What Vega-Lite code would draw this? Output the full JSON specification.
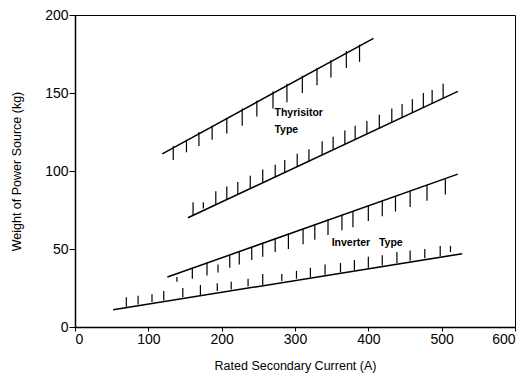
{
  "$schema": "https://vega.github.io/schema/vega-lite/v6.json",
  "width": 440,
  "height": 312,
  "autosize": {"type": "none"},
  "padding": {"left": 75, "top": 15, "right": 15, "bottom": 49},
  "background": "white",
  "config": {
    "view": {"stroke": "black", "strokeWidth": 1},
    "font": "Liberation Sans",
    "axis": {"grid": false, "domainColor": "black", "domainWidth": 1.5, "tickColor": "black", "labelColor": "black", "titleColor": "black", "labelFont": "Liberation Sans", "titleFont": "Liberation Sans", "titleFontWeight": "normal"}
  },
  "datasets": {
    "lines": [
      {"series": "Thyristor upper", "current": 119, "weight": 111},
      {"series": "Thyristor upper", "current": 407, "weight": 185},
      {"series": "Thyristor lower", "current": 154, "weight": 70},
      {"series": "Thyristor lower", "current": 522, "weight": 151},
      {"series": "Inverter upper", "current": 126, "weight": 32},
      {"series": "Inverter upper", "current": 522, "weight": 98},
      {"series": "Inverter lower", "current": 52, "weight": 11},
      {"series": "Inverter lower", "current": 528, "weight": 47}
    ],
    "hatches": [
      {"current": 134, "top": 116, "bottom": 107},
      {"current": 152, "top": 120, "bottom": 112},
      {"current": 169, "top": 125, "bottom": 116},
      {"current": 187, "top": 129, "bottom": 120},
      {"current": 207, "top": 134, "bottom": 124},
      {"current": 228, "top": 140, "bottom": 129},
      {"current": 248, "top": 145, "bottom": 135},
      {"current": 270, "top": 151, "bottom": 140},
      {"current": 289, "top": 156, "bottom": 144},
      {"current": 310, "top": 161, "bottom": 150},
      {"current": 330, "top": 166, "bottom": 155},
      {"current": 349, "top": 171, "bottom": 160},
      {"current": 370, "top": 177, "bottom": 166},
      {"current": 388, "top": 181, "bottom": 170},

      {"current": 161, "top": 80, "bottom": 71.5},
      {"current": 175, "top": 80, "bottom": 76},
      {"current": 192, "top": 87, "bottom": 78.4},
      {"current": 207, "top": 90, "bottom": 81.7},
      {"current": 222, "top": 93, "bottom": 85},
      {"current": 239, "top": 97, "bottom": 88.7},
      {"current": 256, "top": 101, "bottom": 92.4},
      {"current": 273, "top": 104, "bottom": 96.2},
      {"current": 286, "top": 107, "bottom": 99},
      {"current": 303, "top": 111, "bottom": 102.8},
      {"current": 319, "top": 114, "bottom": 106.3},
      {"current": 337, "top": 119, "bottom": 110.3},
      {"current": 352, "top": 122, "bottom": 113.6},
      {"current": 368, "top": 126, "bottom": 117},
      {"current": 382, "top": 129, "bottom": 120},
      {"current": 398, "top": 132, "bottom": 123.7},
      {"current": 415, "top": 136, "bottom": 127.4},
      {"current": 432, "top": 140, "bottom": 131.2},
      {"current": 446, "top": 143, "bottom": 134.2},
      {"current": 460, "top": 146, "bottom": 137.3},
      {"current": 475, "top": 150, "bottom": 140.6},
      {"current": 487, "top": 152, "bottom": 143.3},
      {"current": 502, "top": 156, "bottom": 146.6},

      {"current": 139, "top": 32, "bottom": 29},
      {"current": 160, "top": 38, "bottom": 31},
      {"current": 180, "top": 41, "bottom": 33},
      {"current": 195, "top": 40, "bottom": 35},
      {"current": 211, "top": 46, "bottom": 38},
      {"current": 224, "top": 48, "bottom": 40},
      {"current": 241, "top": 51, "bottom": 43},
      {"current": 256, "top": 54, "bottom": 45},
      {"current": 273, "top": 57, "bottom": 48},
      {"current": 291, "top": 60, "bottom": 50},
      {"current": 311, "top": 63, "bottom": 53},
      {"current": 327, "top": 66, "bottom": 56},
      {"current": 345, "top": 69, "bottom": 59},
      {"current": 364, "top": 72, "bottom": 62},
      {"current": 379, "top": 74, "bottom": 64},
      {"current": 400, "top": 78, "bottom": 68},
      {"current": 419, "top": 81, "bottom": 71},
      {"current": 437, "top": 84, "bottom": 74},
      {"current": 457, "top": 87, "bottom": 77},
      {"current": 480, "top": 91, "bottom": 81},
      {"current": 505, "top": 95, "bottom": 85},

      {"current": 70, "top": 19, "bottom": 13},
      {"current": 86, "top": 20, "bottom": 14.5},
      {"current": 105, "top": 21, "bottom": 16},
      {"current": 121, "top": 23, "bottom": 17},
      {"current": 147, "top": 25, "bottom": 19},
      {"current": 171, "top": 27, "bottom": 20},
      {"current": 194, "top": 28, "bottom": 23},
      {"current": 213, "top": 29, "bottom": 24},
      {"current": 236, "top": 31, "bottom": 26},
      {"current": 256, "top": 34, "bottom": 27},
      {"current": 282, "top": 34, "bottom": 29.5},
      {"current": 302, "top": 36, "bottom": 31},
      {"current": 321, "top": 38, "bottom": 32},
      {"current": 341, "top": 40, "bottom": 33.5},
      {"current": 362, "top": 41, "bottom": 35},
      {"current": 381, "top": 43, "bottom": 36.5},
      {"current": 400, "top": 45, "bottom": 38},
      {"current": 419, "top": 46, "bottom": 39.5},
      {"current": 439, "top": 48, "bottom": 41},
      {"current": 457, "top": 49, "bottom": 42.5},
      {"current": 477, "top": 50, "bottom": 44},
      {"current": 498, "top": 52, "bottom": 45.5},
      {"current": 512, "top": 52, "bottom": 48}
    ],
    "labels": [
      {"text": "Thyrisitor", "current": 272, "weight": 137},
      {"text": "Type", "current": 272, "weight": 126},
      {"text": "Inverter\u00a0\u00a0 Type", "current": 350, "weight": 54}
    ]
  },
  "layer": [
    {
      "data": {"name": "lines"},
      "mark": {"type": "line", "color": "black", "strokeWidth": 1.5},
      "encoding": {
        "x": {"field": "current", "type": "quantitative", "scale": {"domain": [0, 600], "nice": false}, "axis": {"values": [0, 100, 200, 300, 400, 500, 600], "title": "Rated Secondary Current (A)", "labelFontSize": 14, "titleFontSize": 12.5, "tickSize": 4, "labelPadding": 1, "titlePadding": 13}},
        "y": {"field": "weight", "type": "quantitative", "scale": {"domain": [0, 200], "nice": false}, "axis": {"values": [0, 50, 100, 150, 200], "title": "Weight of Power Source (kg)", "labelFontSize": 14, "titleFontSize": 12.5, "tickSize": 6, "labelPadding": 1, "titlePadding": 21}},
        "detail": {"field": "series"}
      }
    },
    {
      "data": {"name": "hatches"},
      "mark": {"type": "rule", "color": "black", "strokeWidth": 1.2},
      "encoding": {
        "x": {"field": "current", "type": "quantitative"},
        "y": {"field": "top", "type": "quantitative"},
        "y2": {"field": "bottom"}
      }
    },
    {
      "data": {"name": "labels"},
      "mark": {"type": "text", "align": "left", "baseline": "middle", "fontSize": 10.5, "fontWeight": "bold", "font": "Liberation Sans", "color": "black"},
      "encoding": {
        "x": {"field": "current", "type": "quantitative"},
        "y": {"field": "weight", "type": "quantitative"},
        "text": {"field": "text"}
      }
    }
  ]
}
